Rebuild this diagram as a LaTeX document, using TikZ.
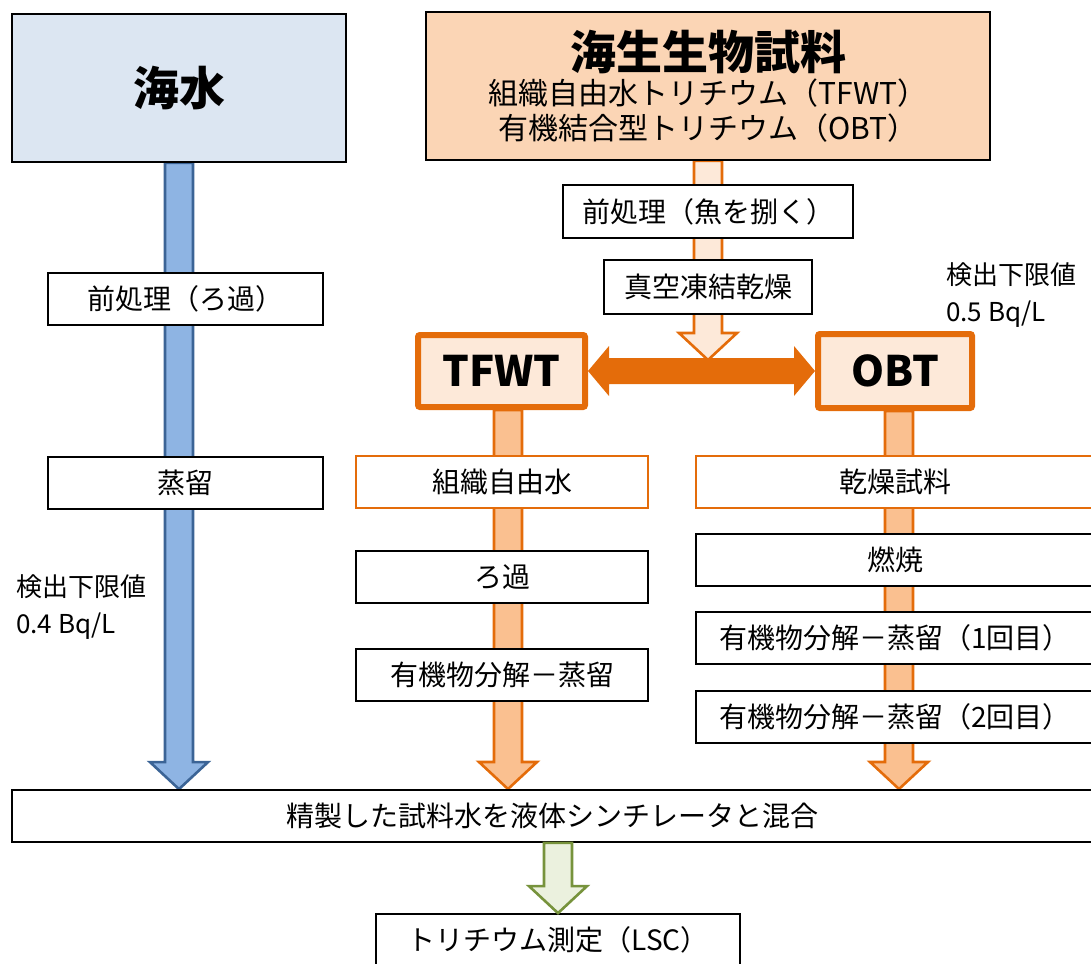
\documentclass[tikz,border=0pt]{standalone}
\usepackage{fontspec}
\setmainfont{Noto Sans CJK JP}
\usetikzlibrary{calc, backgrounds}
\definecolor{seafill}{HTML}{DCE6F2}
\definecolor{biofill}{HTML}{FBD5B5}
\definecolor{seablue}{HTML}{8EB4E3}
\definecolor{seaedge}{HTML}{3B6496}
\definecolor{tagorange}{HTML}{E46C0A}
\definecolor{palepeach}{HTML}{FDE9D9}
\definecolor{midpeach}{HTML}{FAC090}
\definecolor{lscfill}{HTML}{EBF1DE}
\definecolor{lscedge}{HTML}{77933C}

\begin{document}
\begin{tikzpicture}[x=1pt, y=-1pt,
  srcbox/.style={draw=black, line width=1.8pt, minimum height=148pt},
  stepbox/.style={draw=black, line width=1.8pt, fill=white, inner sep=0pt,
    minimum height=52pt, font=\fontsize{28}{34}\selectfont},
  orbox/.style={stepbox, draw=tagorange},
  tagbox/.style={draw=tagorange, line width=6pt, fill=palepeach, rounded corners=2pt,
    inner sep=0pt, font=\bfseries\fontsize{42}{48}\selectfont},
  limit/.style={align=left, anchor=north west, inner sep=0pt,
    font=\fontsize{26}{37}\selectfont},
  fatarrow/.style={line width=2.6pt, to path={
    let \p1=(\tikztostart), \p2=(\tikztotarget) in
    (\x2-14pt,\y1) -- (\x2-14pt,\y2+27pt) -- (\x2-29pt,\y2+27pt) -- (\x2,\y2)
    -- (\x2+29pt,\y2+27pt) -- (\x2+14pt,\y2+27pt) -- (\x2+14pt,\y1) -- cycle}},
  twinarrow/.style={fill=tagorange, draw=none, to path={
    let \p1=(\tikztostart), \p2=(\tikztotarget) in
    (\x1,\y1) -- (\x1+21pt,\y1+25pt) -- (\x1+21pt,\y1+13pt) -- (\x2-21pt,\y1+13pt)
    -- (\x2-21pt,\y1+25pt) -- (\x2,\y1) -- (\x2-21pt,\y1-25pt) -- (\x2-21pt,\y1-13pt)
    -- (\x1+21pt,\y1-13pt) -- (\x1+21pt,\y1-25pt) -- cycle}}]

\useasboundingbox (0,0) rectangle (1091,963);

% ============================================================
% Sources
% ============================================================
\node[srcbox, fill=seafill, minimum width=334pt,
  font=\bfseries\fontsize{46}{50}\selectfont] (sea) at (179,88) {海水};
\node[srcbox, fill=biofill, minimum width=564pt,
  align=center, font=\fontsize{30}{35}\selectfont] (bio) at (708,86)
  {{\bfseries\fontsize{46}{50}\selectfont 海生生物試料}\\組織自由水トリチウム（TFWT）\\有機結合型トリチウム（OBT）};

% ============================================================
% Sea water steps
% ============================================================
\node[stepbox, minimum width=275pt] (seaPre) at (185.5,299) {前処理（ろ過）};
\node[stepbox, minimum width=275pt] (seaDist) at (185.5,483) {蒸留};
\node[limit] (seaLimit) at (16,574) {検出下限値\\0.4 Bq/L};

% ============================================================
% Marine organism steps
% ============================================================
\node[stepbox, minimum width=290pt, minimum height=53pt] (bioPre) at (708,211.5) {前処理（魚を捌く）};
\node[stepbox, minimum width=208pt, minimum height=54pt] (bioDry) at (708,287) {真空凍結乾燥};
\node[limit] (bioLimit) at (946,262) {検出下限値\\0.5 Bq/L};

\node[tagbox, minimum width=167pt, minimum height=72pt] (tfwt) at (501.5,371) {TFWT};
\node[tagbox, minimum width=154pt, minimum height=74pt] (obt) at (895,371) {OBT};

% TFWT branch
\node[orbox, minimum width=292pt] (tfwtWater) at (502,482) {組織自由水};
\node[stepbox, minimum width=292pt] (tfwtFilt) at (502,577) {ろ過};
\node[stepbox, minimum width=292pt] (tfwtDist) at (502,675) {有機物分解－蒸留};

% OBT branch
\node[orbox, minimum width=398pt] (obtDry) at (895,482) {乾燥試料};
\node[stepbox, minimum width=398pt] (obtBurn) at (895,560) {燃焼};
\node[stepbox, minimum width=398pt] (obtDist1) at (895,638) {有機物分解－蒸留（1回目）};
\node[stepbox, minimum width=398pt] (obtDist2) at (895,717) {有機物分解－蒸留（2回目）};

% ============================================================
% Measurement
% ============================================================
\node[stepbox, minimum width=1080pt] (mix) at (552,816) {精製した試料水を液体シンチレータと混合};
\node[stepbox, minimum width=364pt] (lsc) at (558,940) {トリチウム測定（LSC）};

% Tip points of the block arrows
\coordinate (fork) at (708,360);
\coordinate (tfwtTip) at (508,789);
\coordinate (obtTip) at (899,789);

% Block arrows behind the boxes
\begin{pgfonlayer}{background}
\draw[fatarrow, draw=seaedge, fill=seablue] (sea.south) to (sea.south |- mix.north);
\draw[fatarrow, draw=tagorange, fill=palepeach] (bio.south) to (fork);
\draw[twinarrow] (tfwt.east) to (obt.west);
\draw[fatarrow, draw=tagorange, fill=midpeach] (tfwt.south -| tfwtTip) to (tfwtTip);
\draw[fatarrow, draw=tagorange, fill=midpeach] (obt.south -| obtTip) to (obtTip);
\end{pgfonlayer}
\draw[fatarrow, draw=lscedge, fill=lscfill] (lsc.north |- mix.south) to (lsc.north);

\end{tikzpicture}
\end{document}
